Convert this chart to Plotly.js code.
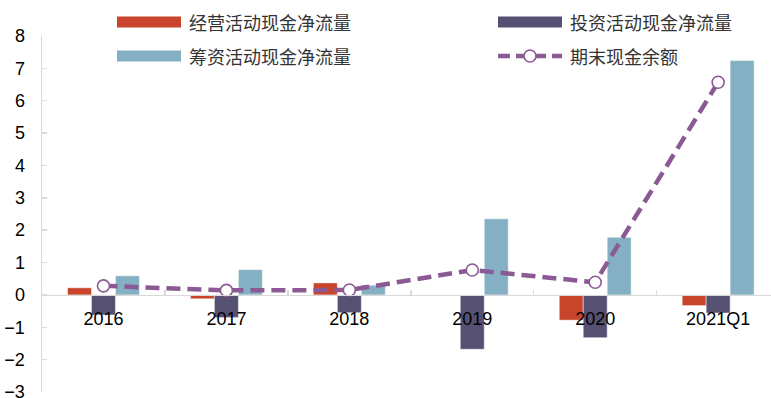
<!DOCTYPE html>
<html>
<head>
<meta charset="utf-8">
<script src="https://cdn.plot.ly/plotly-3.0.1.min.js"></script>
<style>html,body{margin:0;padding:0;background:#fff;}#chart{width:771px;height:398px;}</style>
</head>
<body>
<div id="chart"></div>
<script>
const categories = ["2016", "2017", "2018", "2019", "2020", "2021Q1"];
const operatingCF = [0.22, -0.12, 0.37, 0.0, -0.78, -0.33];
const investingCF = [-0.62, -0.70, -0.55, -1.68, -1.32, -0.56];
const financingCF = [0.59, 0.78, 0.30, 2.35, 1.78, 7.24];
const endingCash = [0.28, 0.14, 0.15, 0.77, 0.39, 6.57];
const seriesNames = ["经营活动现金净流量", "投资活动现金净流量", "筹资活动现金净流量", "期末现金余额"];

const colors = { op: "#C8442A", inv: "#565072", fin: "#85AFC3", cash: "#8B5A94" };

const W = 771, H = 398, ml = 42, mr = 0, mt = 36, mb = 6;
const pw = W - ml - mr, ph = H - mt - mb;
const px = x => (x - ml) / pw;
const py = y => (H - mb - y) / ph;

const barLine = { color: "rgba(255,255,255,0.6)", width: 0.8 };
const traces = [
  { type: "bar", x: categories, y: operatingCF, name: seriesNames[0], marker: { color: colors.op, line: barLine } },
  { type: "bar", x: categories, y: investingCF, name: seriesNames[1], marker: { color: colors.inv, line: barLine } },
  { type: "bar", x: categories, y: financingCF, name: seriesNames[2], marker: { color: colors.fin, line: barLine } },
  { type: "scatter", mode: "lines+markers", x: categories, y: endingCash, name: seriesNames[3],
    line: { color: colors.cash, width: 4.5, dash: "14px,7px" },
    marker: { symbol: "circle", size: 12, color: "#ffffff", line: { color: colors.cash, width: 1.6 } } }
];

// custom legend (shapes + annotations in paper coordinates)
const legendItems = [
  { kind: "bar", color: colors.op, x: 117, y: 22, text: seriesNames[0] },
  { kind: "bar", color: colors.inv, x: 498, y: 22, text: seriesNames[1] },
  { kind: "bar", color: colors.fin, x: 117, y: 56, text: seriesNames[2] },
  { kind: "line", color: colors.cash, x: 498, y: 56, text: seriesNames[3] }
];
const shapes = [], annotations = [];
legendItems.forEach(it => {
  if (it.kind === "bar") {
    shapes.push({ type: "rect", xref: "paper", yref: "paper", x0: px(it.x), x1: px(it.x + 64), y0: py(it.y + 5.5), y1: py(it.y - 5.5),
      fillcolor: it.color, line: { width: 0 } });
  } else {
    shapes.push({ type: "line", xref: "paper", yref: "paper", x0: px(it.x), x1: px(it.x + 64), y0: py(it.y), y1: py(it.y),
      line: { color: it.color, width: 4.5, dash: "12px,6px" } });
    shapes.push({ type: "circle", xref: "paper", yref: "paper", x0: px(it.x + 26), x1: px(it.x + 38), y0: py(it.y + 6), y1: py(it.y - 6),
      fillcolor: "#ffffff", line: { color: it.color, width: 1.6 } });
  }
  annotations.push({ xref: "paper", yref: "paper", x: px(it.x + 70), y: py(it.y), xanchor: "left", yanchor: "middle",
    text: it.text, showarrow: false, font: { family: "Noto Sans CJK SC", size: 18, color: "#333333" } });
});

const layout = {
  width: W, height: H,
  margin: { l: ml, r: mr, t: mt, b: mb, pad: 0 },
  paper_bgcolor: "#ffffff", plot_bgcolor: "#ffffff",
  showlegend: false,
  barmode: "group", bargap: 0.415, bargroupgap: 0,
  font: { family: "Liberation Sans, Arial, sans-serif", size: 18, color: "#000000" },
  xaxis: {
    type: "category", range: [-0.5, 5.43], anchor: "free", position: 3 / 11,
    showline: true, linecolor: "#d9d9d9", linewidth: 1.5,
    ticks: "inside", tickson: "boundaries", ticklen: 5, tickcolor: "#d9d9d9", tickwidth: 1.5,
    showgrid: false, zeroline: false, ticklabelstandoff: 7,
    tickfont: { family: "Liberation Sans, Arial, sans-serif", size: 18, color: "#000000" }
  },
  yaxis: {
    range: [-3, 8], dtick: 1, tick0: 0,
    showline: true, linecolor: "#d9d9d9", linewidth: 1.5,
    ticks: "inside", ticklen: 5, tickcolor: "#d9d9d9", tickwidth: 1.5,
    showgrid: false, zeroline: false, ticklabelstandoff: 12, ticklabeloverflow: "allow",
    tickfont: { family: "Liberation Sans, Arial, sans-serif", size: 18, color: "#000000" }
  },
  shapes: shapes,
  annotations: annotations
};

Plotly.newPlot("chart", traces, layout, { displayModeBar: false, staticPlot: true });
</script>
</body>
</html>
